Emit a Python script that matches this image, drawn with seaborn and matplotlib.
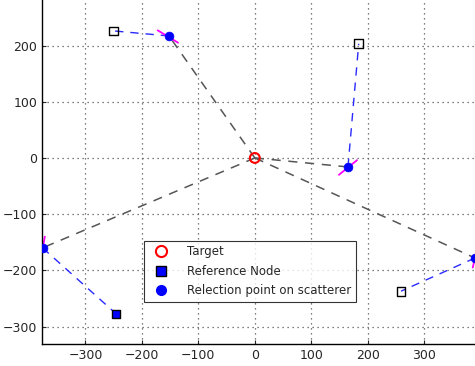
import matplotlib
matplotlib.use("Agg")
import matplotlib.pyplot as plt
import seaborn as sns
from matplotlib.lines import Line2D

sns.set_style("ticks")
plt.rcParams['font.family'] = ['DejaVu Sans']

# target position
target_x = [0]
target_y = [0]

# reference nodes (paired with reflection points below)
node_x = [-250, 184, -246, 259]
node_y = [226, 203, -277, -237]
node_filled = [False, False, True, False]

# reflection points on scatterers
refl_x = [-152, 165, -376, 390]
refl_y = [217, -16, -160, -178]

# scatterer surfaces (short segments through reflection points)
surf_x0 = [-172, 149, -379, 386]
surf_y0 = [227, -30, -180, -195]
surf_x1 = [-136, 181, -372, 394]
surf_y1 = [205, -4, -140, -160]

fig = plt.figure(figsize=(4.75, 3.66), dpi=100)
ax = fig.add_axes([42 / 475, 22 / 366, 433 / 475, 344 / 366])

for i in range(len(refl_x)):
    # target -> reflection point
    sns.lineplot(x=[target_x[0], refl_x[i]], y=[target_y[0], refl_y[i]], sort=False,
                 color="#555555", linestyle=(0, (6, 5)), linewidth=1.1, ax=ax)
    # reflection point -> reference node
    sns.lineplot(x=[refl_x[i], node_x[i]], y=[refl_y[i], node_y[i]], sort=False,
                 color="#2a2aff", linestyle=(0, (6, 5)), linewidth=1.0, ax=ax)
    # scatterer surface
    sns.lineplot(x=[surf_x0[i], surf_x1[i]], y=[surf_y0[i], surf_y1[i]], sort=False,
                 color="magenta", linewidth=1.3, ax=ax)

for i in range(len(node_x)):
    sns.scatterplot(x=[node_x[i]], y=[node_y[i]], marker="s", s=40,
                    facecolor="blue" if node_filled[i] else "none",
                    edgecolor="black", linewidth=1.0, ax=ax, zorder=5)
sns.scatterplot(x=refl_x, y=refl_y, marker="o", s=40, color="blue",
                edgecolor="blue", ax=ax, zorder=6)
sns.scatterplot(x=target_x, y=target_y, marker="o", s=50, facecolor="none",
                edgecolor="red", linewidth=1.5, ax=ax, zorder=7)

ax.set_xlim(-377, 390)
ax.set_ylim(-331, 281)
ax.set_xticks([-300, -200, -100, 0, 100, 200, 300])
ax.set_yticks([-300, -200, -100, 0, 100, 200])
ax.grid(True, linestyle=(0, (1, 3)), color="#555555", linewidth=0.9)
ax.tick_params(direction="in", labelsize=9, length=3)
ax.spines["top"].set_visible(False)
ax.spines["right"].set_visible(False)
for sp in ["left", "bottom"]:
    ax.spines[sp].set_color("black")
    ax.spines[sp].set_linewidth(1.0)

handles = [
    Line2D([], [], marker="o", linestyle="none", markerfacecolor="none",
           markeredgecolor="red", markeredgewidth=1.5, markersize=8),
    Line2D([], [], marker="s", linestyle="none", markerfacecolor="blue",
           markeredgecolor="black", markersize=7),
    Line2D([], [], marker="o", linestyle="none", markerfacecolor="blue",
           markeredgecolor="blue", markersize=7),
]
labels = ["Target", "Reference Node", "Relection point on scatterer"]
leg = ax.legend(handles, labels, loc="lower left", bbox_to_anchor=(0.222, 0.105),
                fontsize=8.5, frameon=True, fancybox=False, edgecolor="black",
                borderpad=0.4, labelspacing=0.55, handletextpad=1.2)
leg.get_frame().set_linewidth(0.8)

fig.savefig("out.png", dpi=100)
